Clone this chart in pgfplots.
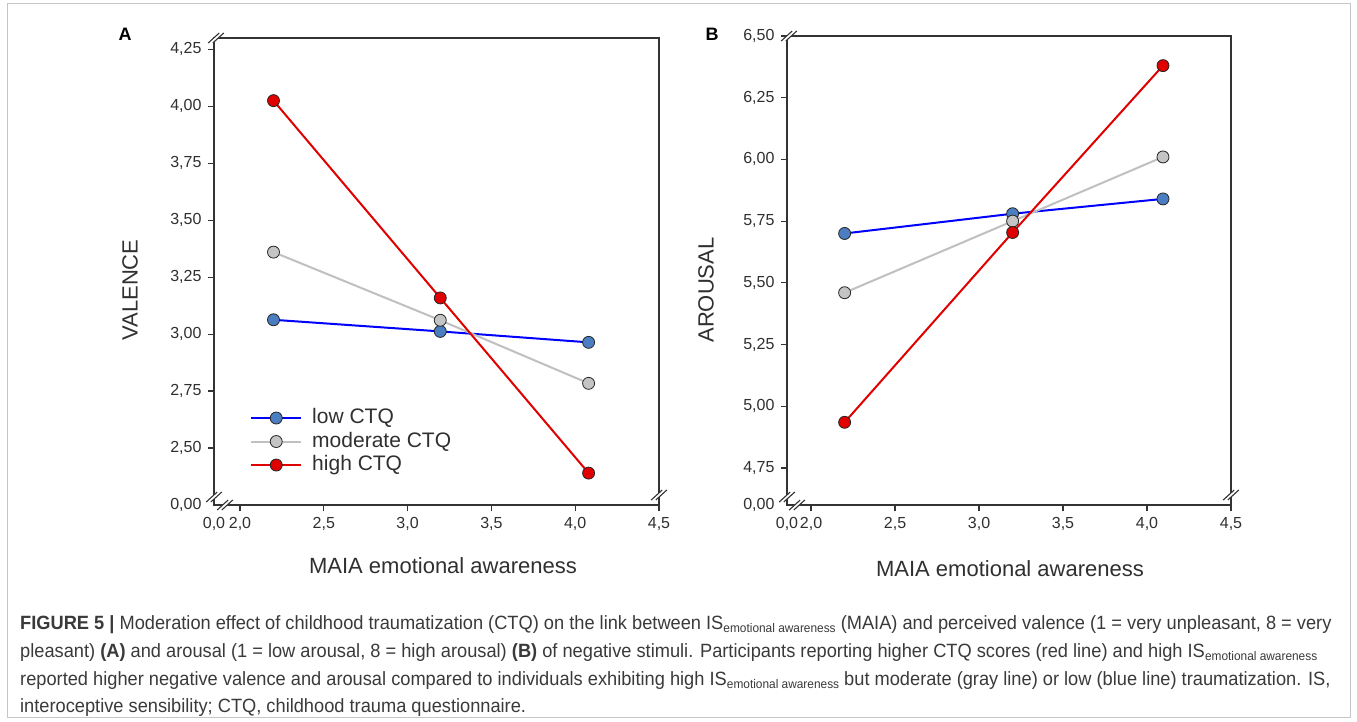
\documentclass[border=0pt]{standalone}
\usepackage{fontspec}
\setmainfont{Liberation Sans}
\newfontfamily\capfont[FakeStretch=0.95]{Liberation Sans}
\usepackage{pgfplots}
\pgfplotsset{compat=1.18}

\definecolor{axgray}{HTML}{333333}
\definecolor{txt}{HTML}{303030}
\definecolor{lowline}{HTML}{0000FF}
\definecolor{lowfill}{HTML}{4A7EC0}
\definecolor{modline}{HTML}{C0C0C0}
\definecolor{modfill}{HTML}{C4C4C4}
\definecolor{highline}{HTML}{E00000}
\definecolor{highfill}{HTML}{E00000}
\definecolor{capcol}{HTML}{3A3A3A}

\newcommand{\zzx}{0,0}
\newcommand{\zzy}{0,00}

\newcommand{\brk}[2]{%
  \begin{scope}[shift={(#1pt,#2pt)}]
    \fill[white] (-7.8pt,-5pt) -- (3.2pt,5pt) -- (7.8pt,5pt) -- (-3.2pt,-5pt) -- cycle;
    \draw[axgray, line width=1.1pt] (-7.8pt,-5pt) -- (3.2pt,5pt) (-3.2pt,-5pt) -- (7.8pt,5pt);
  \end{scope}}
\newcommand{\sub}[1]{\raisebox{-3.8pt}{\fontsize{12.5}{12.5}\selectfont #1}}

\pgfplotsset{
  myax/.style={
    scale only axis,
    axis line style={axgray, line width=1.3pt},
    tick style={axgray, line width=1.2pt},
    major tick length=6pt,
    tick align=outside,
    xtick pos=bottom, ytick pos=left,
    ticklabel style={font=\fontsize{16}{16}\selectfont, text=txt},
    yticklabel style={xshift=-3pt},
    xticklabel style={yshift=-3pt},
    /pgf/number format/assume math mode=true,
    /pgf/number format/use comma,
    x tick label style={/pgf/number format/.cd, fixed, fixed zerofill, precision=1, /tikz/.cd},
    y tick label style={/pgf/number format/.cd, fixed, fixed zerofill, precision=2, /tikz/.cd},
    extra tick style={tick style={draw=none}},
    xtick={2,2.5,3,3.5,4,4.5},
    clip=false,
    legend image code/.code={%
      \draw[mark repeat=2,mark phase=2,##1] plot coordinates {(0pt,0pt) (25pt,0pt) (50pt,0pt)};},
  },
  lowst/.style={color=lowline, line width=2pt, mark=*, mark size=6pt,
    mark options={fill=lowfill, draw=black!85, line width=0.8pt}},
  modst/.style={color=modline, line width=2pt, mark=*, mark size=6pt,
    mark options={fill=modfill, draw=black!85, line width=0.8pt}},
  highst/.style={color=highline, line width=2pt, mark=*, mark size=6pt,
    mark options={fill=highfill, draw=black!85, line width=0.8pt}},
}

\begin{document}
\begin{tikzpicture}
\path[use as bounding box] (0pt,0pt) rectangle (1357pt,721pt);
\fill[white] (0pt,0pt) rectangle (1357pt,721pt);
\draw[gray!45, line width=1pt] (7pt,4pt) rectangle (1350pt,717pt);

% Panel A
\begin{axis}[myax,
  at={(214pt,216pt)}, anchor=south west,
  width=445pt, height=467pt,
  xmin=1.845, xmax=4.5, ymin=2.25, ymax=4.30,
  ytick={2.5,2.75,3,3.25,3.5,3.75,4,4.25},
  extra x ticks={1.845}, extra x tick labels={\zzx},
  extra y ticks={2.25}, extra y tick labels={\zzy},
  legend style={at={(axis description cs:0.081,0.207)}, anchor=north west,
    draw=none, fill=none, inner sep=0pt, column sep=10pt, row sep=4.5pt,
    font=\fontsize{21}{21}\selectfont, text=txt,
    nodes={inner sep=0pt, text height=15pt, text depth=4pt}},
  legend cell align=left,
]
\addplot[lowst] coordinates {(2.20,3.063) (3.195,3.012) (4.08,2.964)};
\addlegendentry{low CTQ}
\addplot[modst] coordinates {(2.20,3.36) (3.195,3.061) (4.08,2.784)};
\addlegendentry{moderate CTQ}
\addplot[highst] coordinates {(2.20,4.025) (3.195,3.159) (4.08,2.39)};
\addlegendentry{high CTQ}
\end{axis}

% Panel B
\begin{axis}[myax,
  at={(787pt,216pt)}, anchor=south west,
  width=444pt, height=469pt,
  xmin=1.857, xmax=4.5, ymin=4.60, ymax=6.50,
  ytick={4.75,5,5.25,5.5,5.75,6,6.25,6.5},
  extra x ticks={1.857}, extra x tick labels={\zzx},
  extra y ticks={4.60}, extra y tick labels={\zzy},
]
\addplot[lowst] coordinates {(2.20,5.70) (3.20,5.78) (4.095,5.84)};
\addplot[modst] coordinates {(2.20,5.46) (3.20,5.75) (4.095,6.01)};
\addplot[highst] coordinates {(2.20,4.935) (3.20,5.704) (4.095,6.38)};
\end{axis}

% axis breaks
\brk{216}{683}
\brk{214}{224}
\brk{225}{216}
\brk{659}{226}
\brk{789}{685}
\brk{787}{224}
\brk{797}{216}
\brk{1231}{226}

% labels
\node[rotate=90, font=\fontsize{22}{22}\selectfont, text=txt] at (130pt,431pt) {VALENCE};
\node[rotate=90, font=\fontsize{22}{22}\selectfont, text=txt] at (706pt,431pt) {AROUSAL};
\node[font=\fontsize{22}{22}\selectfont, text=txt] at (443pt,155pt) {MAIA emotional awareness};
\node[font=\fontsize{22}{22}\selectfont, text=txt] at (1010pt,152pt) {MAIA emotional awareness};
\node[font=\bfseries\fontsize{18}{18}\selectfont] at (125pt,687pt) {A};
\node[font=\bfseries\fontsize{18}{18}\selectfont] at (712pt,687pt) {B};

% caption
\begin{scope}[every node/.style={anchor=base west, inner sep=0pt, text=capcol, font=\capfont\fontsize{19.2}{19.2}\selectfont}]
\node at (20pt,92pt) {\textbf{FIGURE 5 |} Moderation effect of childhood traumatization (CTQ) on the link between IS\sub{emotional awareness} (MAIA) and perceived valence (1 = very unpleasant, 8 = very};
\node at (20pt,64pt) {pleasant) \textbf{(A)} and arousal (1 = low arousal, 8 = high arousal) \textbf{(B)} of negative stimuli. Participants reporting higher CTQ scores (red line) and high IS\sub{emotional awareness}};
\node at (20pt,36pt) {reported higher negative valence and arousal compared to individuals exhibiting high IS\sub{emotional awareness} but moderate (gray line) or low (blue line) traumatization. IS,};
\node at (20pt,9pt) {interoceptive sensibility; CTQ, childhood trauma questionnaire.};
\end{scope}
\end{tikzpicture}
\end{document}
